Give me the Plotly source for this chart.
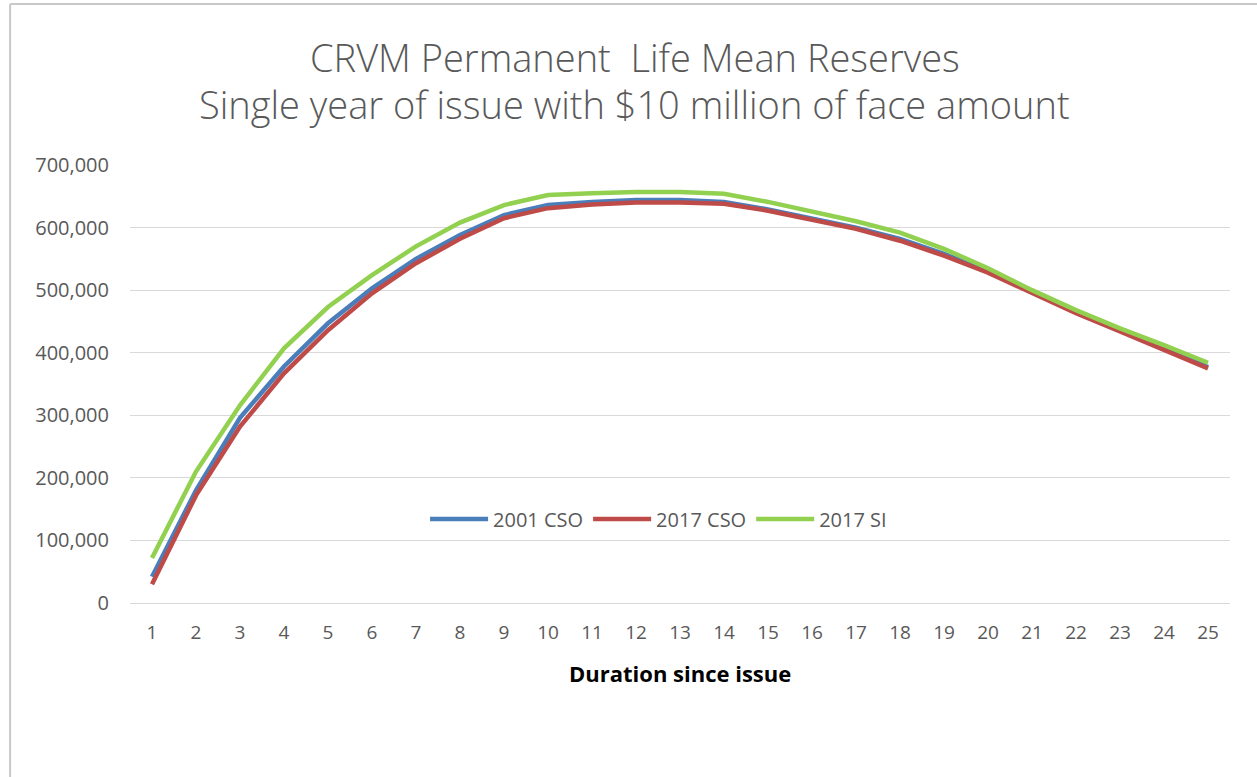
import plotly.graph_objects as go

durations = list(range(1, 26))
cso_2001 = [42000, 180000, 296000, 378000, 447000, 503000, 550000, 588000, 620000, 636000,
            641000, 644000, 644000, 641000, 629000, 615000, 600000, 582000, 558000, 530000,
            498000, 465000, 436000, 408000, 377000]
cso_2017 = [30000, 172000, 282000, 367000, 436000, 495000, 543000, 582000, 615000, 631000,
            637000, 640000, 640000, 638000, 627000, 613000, 598000, 579000, 555000, 528000,
            496000, 463000, 434000, 405000, 375000]
si_2017 = [72000, 210000, 316000, 407000, 473000, 524000, 570000, 608000, 636000, 652000,
           655000, 657000, 657000, 654000, 641000, 625000, 610000, 592000, 566000, 535000,
           500000, 468000, 439000, 412000, 384000]
series_names = ["2001 CSO", "2017 CSO", "2017 SI"]
series_colors = ["#4A7EBB", "#BE4B48", "#92D050"]
y_ticks = [0, 100000, 200000, 300000, 400000, 500000, 600000, 700000]

FONT = "Open Sans"
GRAY = "#595959"

fig = go.Figure()
for name, vals, col in zip(series_names, [cso_2001, cso_2017, si_2017], series_colors):
    fig.add_trace(go.Scatter(x=[str(d) for d in durations], y=vals, mode="lines", name=name,
                             line=dict(color=col, width=4.5)))

fig.update_layout(
    width=1257, height=777,
    margin=dict(l=130, r=27, t=165, b=174),
    paper_bgcolor="white", plot_bgcolor="white",
    font=dict(family=FONT, color=GRAY, size=19),
    showlegend=True,
    legend=dict(orientation="h", x=0.4805, xanchor="center", y=0.192, yanchor="middle",
                font=dict(size=20, color=GRAY, family=FONT), bgcolor="rgba(0,0,0,0)",
                itemwidth=58, tracegroupgap=0),
    xaxis=dict(type="category", range=[-0.5, 24.5], showgrid=False, zeroline=False,
               showline=False, ticks="", tickfont=dict(size=19, color=GRAY, family=FONT),
               ticklabelstandoff=16),
    yaxis=dict(range=[0, 700000], tickvals=y_ticks, tickformat=",d", showgrid=True,
               gridcolor="#D9D9D9", gridwidth=1, zeroline=True, zerolinecolor="#D9D9D9",
               zerolinewidth=1, showline=False, ticks="",
               tickfont=dict(size=20, color=GRAY, family=FONT), ticklabelstandoff=20),
)

fig.add_annotation(text="CRVM Permanent  Life Mean Reserves", xref="paper", yref="paper",
                   x=0.459, y=1.2466, xanchor="center", yanchor="middle", showarrow=False,
                   font=dict(size=38, color=GRAY, family=FONT, weight=300))
fig.add_annotation(text="Single year of issue with $10 million of face amount", xref="paper", yref="paper",
                   x=0.459, y=1.1393, xanchor="center", yanchor="middle", showarrow=False,
                   font=dict(size=38, color=GRAY, family=FONT, weight=300))
fig.add_annotation(text="<b>Duration since issue</b>", xref="paper", yref="paper",
                   x=0.5, y=-0.1598, xanchor="center", yanchor="middle", showarrow=False,
                   font=dict(size=22, color="black", family=FONT))

# chart border (left and top edges)
fig.add_shape(type="line", xref="paper", yref="paper", x0=-0.109, x1=-0.109, y0=-0.40, y1=1.3676,
              line=dict(color="#C8C8C8", width=2))
fig.add_shape(type="line", xref="paper", yref="paper", x0=-0.109, x1=1.03, y0=1.3676, y1=1.3676,
              line=dict(color="#C8C8C8", width=2))

fig.write_html("out.html", config={"displayModeBar": False},
               post_script="document.body.style.margin='0';")
